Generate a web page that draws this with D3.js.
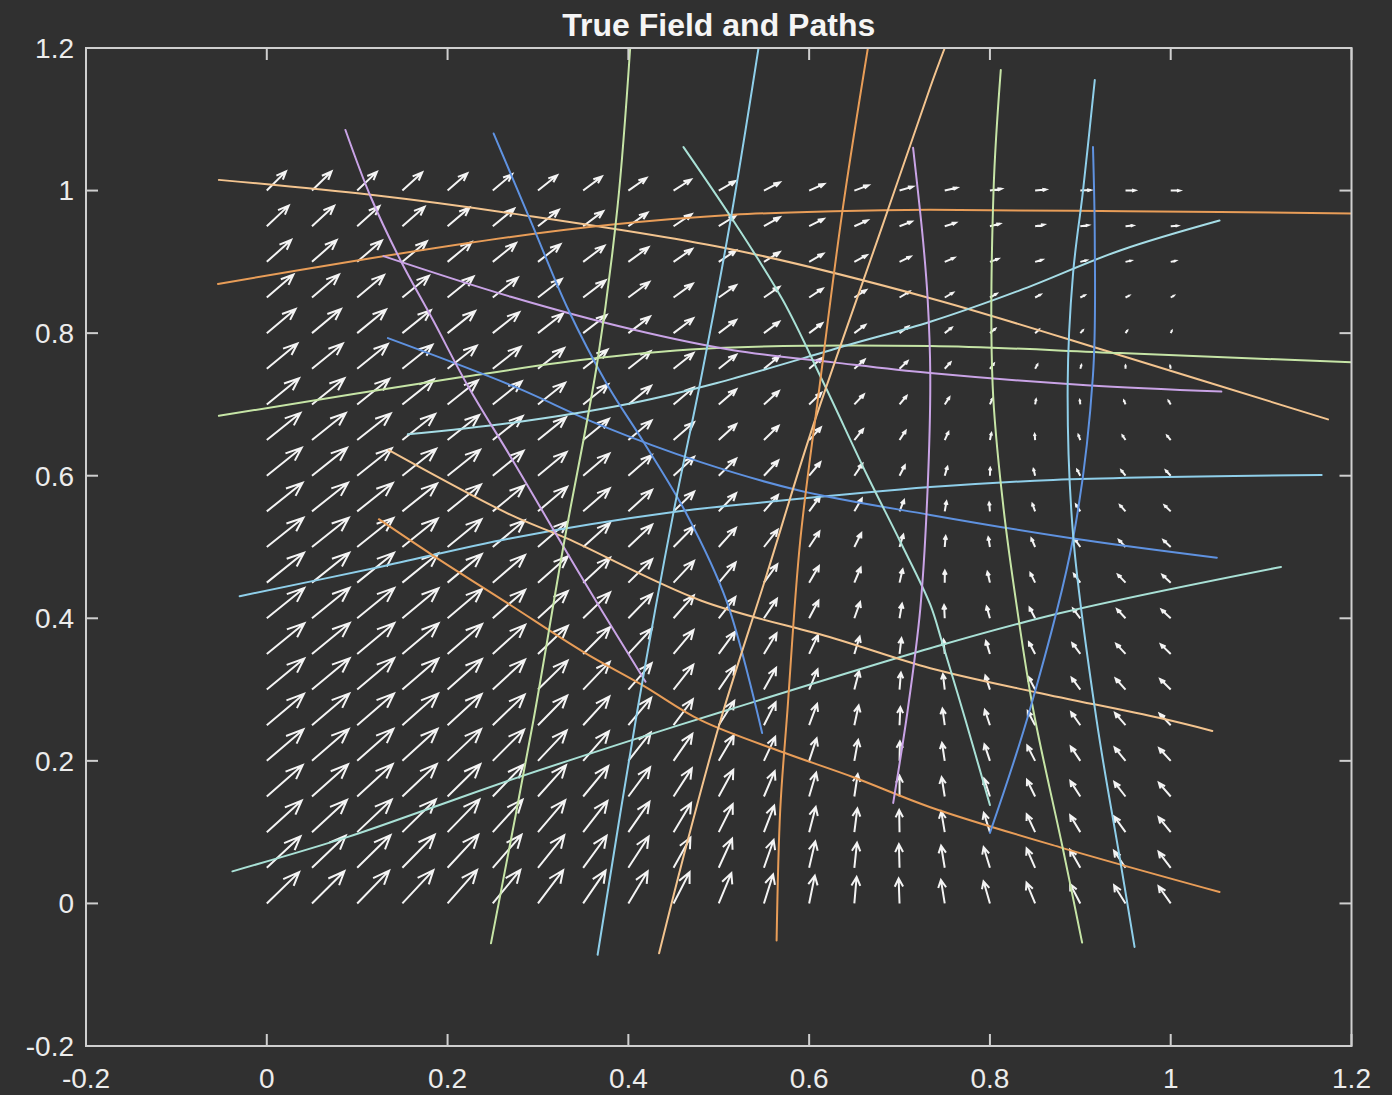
<!DOCTYPE html>
<html>
<head>
<meta charset="utf-8">
<title>True Field and Paths</title>
<script src="https://cdn.jsdelivr.net/npm/d3@7"></script>
<style>
  html, body { margin: 0; padding: 0; background: #303030; }
  svg { display: block; }
</style>
</head>
<body>
<svg id="chart" width="1392" height="1095"></svg>
<script>
// ---- data -------------------------------------------------------------
const titleText = "True Field and Paths";
const xTicks = [-0.2, 0, 0.2, 0.4, 0.6, 0.8, 1, 1.2];
const yTicks = [-0.2, 0, 0.2, 0.4, 0.6, 0.8, 1, 1.2];

// sample grid of the vector field
const gridX = [0, 0.05, 0.1, 0.15, 0.2, 0.25, 0.3, 0.35, 0.4, 0.45, 0.5, 0.55, 0.6, 0.65, 0.7, 0.75, 0.8, 0.85, 0.9, 0.95, 1];
const gridY = [0, 0.05, 0.1, 0.15, 0.2, 0.25, 0.3, 0.35, 0.4, 0.45, 0.5, 0.55, 0.6, 0.65, 0.7, 0.75, 0.8, 0.85, 0.9, 0.95, 1];

// field components, one row per gridY value, one column per gridX value
const fieldU = [
  [35.4,35.5,35.0,34.0,32.3,30.2,27.6,24.6,21.2,17.6,13.8,10.0,6.2,2.5,-1.0,-4.2,-7.0,-9.4,-11.2,-12.5,-13.3],
  [36.9,37.0,36.5,35.4,33.7,31.5,28.8,25.7,22.2,18.5,14.6,10.6,6.7,2.9,-0.7,-4.0,-6.9,-9.3,-11.2,-12.6,-13.3],
  [38.2,38.3,37.8,36.7,34.9,32.6,29.9,26.6,23.1,19.2,15.3,11.2,7.2,3.3,-0.4,-3.8,-6.7,-9.2,-11.1,-12.5,-13.2],
  [39.3,39.4,38.9,37.7,35.9,33.6,30.7,27.5,23.8,20.0,15.9,11.8,7.7,3.7,0.0,-3.4,-6.4,-8.9,-10.9,-12.3,-13.0],
  [40.1,40.2,39.7,38.5,36.7,34.3,31.5,28.2,24.5,20.6,16.5,12.3,8.2,4.2,0.4,-3.0,-6.0,-8.6,-10.5,-11.9,-12.7],
  [40.7,40.8,40.3,39.1,37.3,34.9,32.0,28.7,25.0,21.1,17.0,12.8,8.7,4.7,0.9,-2.5,-5.6,-8.1,-10.1,-11.5,-12.2],
  [41.0,41.2,40.6,39.4,37.6,35.3,32.4,29.1,25.5,21.6,17.5,13.3,9.2,5.2,1.5,-2.0,-5.0,-7.5,-9.5,-10.9,-11.6],
  [41.2,41.3,40.7,39.6,37.8,35.5,32.7,29.4,25.8,21.9,17.9,13.8,9.7,5.8,2.1,-1.3,-4.3,-6.8,-8.8,-10.2,-10.9],
  [41.0,41.1,40.6,39.5,37.8,35.5,32.7,29.5,26.0,22.2,18.2,14.2,10.2,6.3,2.7,-0.7,-3.6,-6.1,-8.0,-9.3,-10.1],
  [40.7,40.8,40.3,39.2,37.5,35.3,32.7,29.5,26.1,22.4,18.5,14.6,10.7,6.9,3.4,0.1,-2.7,-5.2,-7.0,-8.4,-9.1],
  [40.1,40.2,39.7,38.7,37.1,35.0,32.4,29.4,26.1,22.5,18.8,15.0,11.2,7.6,4.1,1.0,-1.8,-4.1,-6.0,-7.3,-8.0],
  [39.2,39.4,39.0,38.0,36.5,34.4,32.0,29.1,26.0,22.6,19.0,15.4,11.7,8.2,4.9,1.9,-0.8,-3.0,-4.8,-6.1,-6.8],
  [38.2,38.3,37.9,37.0,35.6,33.7,31.4,28.7,25.7,22.5,19.1,15.7,12.3,8.9,5.8,2.9,0.3,-1.8,-3.5,-4.7,-5.4],
  [36.8,37.0,36.7,35.9,34.6,32.8,30.7,28.2,25.4,22.4,19.2,16.0,12.8,9.6,6.7,4.0,1.6,-0.5,-2.1,-3.3,-4.0],
  [35.3,35.5,35.2,34.5,33.3,31.7,29.8,27.5,24.9,22.1,19.2,16.3,13.3,10.4,7.7,5.1,2.9,1.0,-0.6,-1.7,-2.4],
  [33.5,33.7,33.5,32.9,31.9,30.5,28.7,26.7,24.3,21.8,19.2,16.5,13.8,11.2,8.7,6.3,4.3,2.5,1.1,0.0,-0.6],
  [31.5,31.7,31.6,31.1,30.2,29.0,27.5,25.7,23.7,21.5,19.1,16.7,14.3,12.0,9.7,7.6,5.8,4.1,2.8,1.9,1.2],
  [29.2,29.5,29.4,29.1,28.4,27.4,26.1,24.6,22.9,21.0,19.0,16.9,14.8,12.8,10.8,9.0,7.3,5.9,4.7,3.8,3.2],
  [26.7,27.0,27.1,26.8,26.3,25.5,24.6,23.3,22.0,20.4,18.8,17.1,15.4,13.6,12.0,10.4,9.0,7.8,6.7,5.9,5.3],
  [24.0,24.3,24.4,24.3,24.0,23.5,22.8,22.0,20.9,19.8,18.5,17.2,15.9,14.5,13.2,11.9,10.8,9.7,8.8,8.1,7.6],
  [21.0,21.4,21.6,21.7,21.6,21.3,21.0,20.4,19.8,19.1,18.2,17.3,16.4,15.4,14.5,13.5,12.6,11.8,11.1,10.4,9.9]
];
const fieldV = [
  [43.5,44.7,45.6,46.2,46.6,46.6,46.2,45.6,44.7,43.5,42.1,40.4,38.6,36.7,34.7,32.7,30.7,28.7,26.9,25.3,23.8],
  [43.7,44.8,45.5,45.9,46.0,45.8,45.3,44.5,43.4,42.0,40.4,38.6,36.7,34.7,32.7,30.6,28.6,26.8,25.0,23.5,22.2],
  [43.8,44.7,45.3,45.6,45.5,45.1,44.4,43.3,42.0,40.5,38.8,36.9,34.9,32.8,30.7,28.6,26.7,24.8,23.2,21.8,20.6],
  [43.8,44.6,45.0,45.1,44.8,44.2,43.3,42.2,40.7,39.0,37.1,35.1,33.0,30.9,28.8,26.7,24.8,23.0,21.4,20.1,19.0],
  [43.7,44.3,44.6,44.5,44.1,43.4,42.3,41.0,39.4,37.5,35.6,33.4,31.3,29.1,26.9,24.8,22.9,21.2,19.7,18.4,17.5],
  [43.5,44.0,44.1,43.9,43.3,42.5,41.2,39.8,38.0,36.1,34.0,31.8,29.5,27.3,25.1,23.1,21.1,19.5,18.0,16.9,16.1],
  [43.2,43.5,43.6,43.2,42.5,41.5,40.2,38.5,36.7,34.6,32.4,30.2,27.9,25.6,23.4,21.3,19.4,17.8,16.4,15.4,14.6],
  [42.7,43.0,42.9,42.4,41.6,40.4,39.0,37.3,35.3,33.2,30.9,28.6,26.2,23.9,21.7,19.6,17.8,16.2,14.9,13.9,13.3],
  [42.1,42.3,42.1,41.6,40.6,39.4,37.8,36.0,33.9,31.7,29.4,27.0,24.6,22.3,20.1,18.0,16.2,14.7,13.4,12.5,12.0],
  [41.5,41.6,41.3,40.6,39.6,38.3,36.6,34.7,32.6,30.3,27.9,25.5,23.1,20.7,18.5,16.5,14.7,13.2,12.0,11.2,10.7],
  [40.7,40.7,40.4,39.6,38.5,37.1,35.4,33.4,31.2,28.9,26.5,24.0,21.6,19.2,17.0,15.0,13.3,11.8,10.7,9.9,9.5],
  [39.8,39.8,39.3,38.5,37.4,35.9,34.1,32.1,29.9,27.5,25.1,22.6,20.1,17.8,15.6,13.6,11.9,10.5,9.4,8.7,8.3],
  [38.8,38.7,38.2,37.4,36.1,34.6,32.8,30.8,28.5,26.1,23.7,21.2,18.7,16.4,14.2,12.3,10.6,9.2,8.2,7.5,7.2],
  [37.7,37.5,37.0,36.1,34.9,33.3,31.5,29.4,27.1,24.7,22.3,19.8,17.4,15.1,12.9,11.0,9.4,8.0,7.0,6.4,6.1],
  [36.4,36.3,35.7,34.8,33.5,32.0,30.1,28.0,25.8,23.4,20.9,18.5,16.1,13.8,11.7,9.8,8.2,6.9,5.9,5.3,5.1],
  [35.1,34.9,34.3,33.4,32.1,30.5,28.7,26.6,24.4,22.0,19.6,17.2,14.8,12.6,10.5,8.7,7.1,5.8,4.9,4.3,4.1],
  [33.6,33.4,32.8,31.9,30.6,29.1,27.3,25.2,23.0,20.7,18.3,15.9,13.6,11.4,9.4,7.6,6.0,4.8,3.9,3.4,3.2],
  [32.0,31.8,31.3,30.3,29.1,27.6,25.8,23.8,21.6,19.3,17.0,14.7,12.4,10.3,8.3,6.6,5.1,3.9,3.0,2.5,2.3],
  [30.4,30.2,29.6,28.7,27.5,26.0,24.3,22.3,20.2,18.0,15.8,13.5,11.3,9.2,7.3,5.6,4.2,3.0,2.2,1.7,1.5],
  [28.6,28.4,27.8,27.0,25.8,24.4,22.7,20.9,18.8,16.7,14.5,12.4,10.2,8.2,6.4,4.7,3.3,2.2,1.4,0.9,0.7],
  [26.7,26.5,26.0,25.2,24.1,22.8,21.2,19.4,17.5,15.4,13.3,11.3,9.2,7.3,5.5,3.9,2.6,1.5,0.7,0.2,0.0]
];

// trajectories, each a list of [x, y] samples
const paths = [
  [[-0.053,1.015],[0.115,0.994],[0.27,0.968],[0.516,0.917],[0.734,0.849],[0.944,0.769],[1.174,0.679]],
  [[-0.054,0.869],[0.10,0.902],[0.27,0.935],[0.38,0.952],[0.516,0.966],[0.627,0.971],[0.734,0.973],[0.95,0.971],[1.2,0.968]],
  [[-0.053,0.684],[0.214,0.738],[0.366,0.765],[0.498,0.779],[0.734,0.782],[0.944,0.772],[1.2,0.759]],
  [[-0.03,0.431],[0.125,0.472],[0.269,0.512],[0.45,0.549],[0.553,0.563],[0.734,0.584],[0.87,0.594],[1.167,0.601]],
  [[-0.038,0.045],[0.089,0.093],[0.184,0.135],[0.269,0.173],[0.416,0.234],[0.509,0.271],[0.734,0.358],[0.877,0.407],[1.122,0.472]],
  [[0.124,0.539],[0.184,0.488],[0.269,0.419],[0.35,0.353],[0.416,0.306],[0.48,0.257],[0.571,0.212],[0.649,0.177],[0.734,0.135],[0.877,0.079],[1.054,0.016]],
  [[0.135,0.636],[0.27,0.545],[0.332,0.512],[0.48,0.425],[0.627,0.372],[0.734,0.33],[0.852,0.296],[0.988,0.26],[1.046,0.242]],
  [[0.134,0.793],[0.27,0.727],[0.369,0.671],[0.48,0.619],[0.59,0.579],[0.734,0.545],[0.892,0.512],[1.051,0.485]],
  [[0.156,0.658],[0.27,0.674],[0.405,0.702],[0.498,0.73],[0.645,0.784],[0.734,0.816],[0.833,0.86],[0.944,0.916],[1.054,0.958]],
  [[0.129,0.908],[0.27,0.851],[0.405,0.805],[0.516,0.776],[0.627,0.759],[0.734,0.744],[0.907,0.727],[1.056,0.718]],
  [[0.087,1.085],[0.115,0.991],[0.148,0.902],[0.184,0.818],[0.222,0.727],[0.27,0.626],[0.314,0.531],[0.369,0.414],[0.419,0.311]],
  [[0.251,1.08],[0.295,0.948],[0.332,0.837],[0.377,0.727],[0.417,0.647],[0.465,0.545],[0.509,0.423],[0.548,0.239]],
  [[0.461,1.061],[0.516,0.958],[0.571,0.846],[0.616,0.73],[0.664,0.601],[0.701,0.507],[0.734,0.419],[0.747,0.367],[0.773,0.257],[0.8,0.138]],
  [[0.248,-0.056],[0.295,0.257],[0.328,0.5],[0.366,0.762],[0.388,0.977],[0.402,1.2]],
  [[0.366,-0.072],[0.41,0.271],[0.45,0.549],[0.48,0.734],[0.513,0.958],[0.544,1.2]],
  [[0.434,-0.07],[0.465,0.085],[0.502,0.257],[0.553,0.461],[0.601,0.657],[0.682,0.954],[0.734,1.145],[0.75,1.2]],
  [[0.564,-0.052],[0.568,0.131],[0.576,0.271],[0.59,0.507],[0.612,0.73],[0.637,0.973],[0.665,1.2]],
  [[0.693,0.141],[0.709,0.271],[0.723,0.414],[0.731,0.58],[0.734,0.741],[0.731,0.85],[0.726,0.93],[0.715,1.06]],
  [[0.812,1.169],[0.804,1.0],[0.803,0.727],[0.815,0.555],[0.83,0.414],[0.848,0.271],[0.881,0.075],[0.902,-0.055]],
  [[0.8,0.099],[0.844,0.271],[0.892,0.512],[0.914,0.741],[0.916,0.93],[0.914,1.061]],
  [[0.916,1.155],[0.903,1.0],[0.892,0.884],[0.886,0.727],[0.892,0.517],[0.918,0.257],[0.944,0.061],[0.96,-0.061]]
];

// ---- styling ----------------------------------------------------------
const palette = {
  peach: "#f3c48f", orange: "#e89d58", green: "#c6e5a6", sky: "#8fcfea",
  mint: "#a9e1d6", cyan: "#a6dde6", blue: "#5f92e0", lilac: "#c9a3e6"
};
const pathColors = [
  palette.peach, palette.orange, palette.green, palette.sky, palette.mint,
  palette.orange, palette.peach, palette.blue, palette.cyan, palette.lilac,
  palette.lilac, palette.blue, palette.mint, palette.green, palette.sky,
  palette.peach, palette.orange, palette.lilac, palette.green, palette.blue,
  palette.sky
];

const BG = "#303030";
const AXIS = "#cfcfcf";
const TEXT = "#ececec";
const FONT = "'Liberation Sans', Arial, Helvetica, sans-serif";

// ---- layout -----------------------------------------------------------
const plot = { left: 86, right: 1351.5, top: 48, bottom: 1046 };
const x = d3.scaleLinear().domain([-0.2, 1.2]).range([plot.left, plot.right]);
const y = d3.scaleLinear().domain([-0.2, 1.2]).range([plot.bottom, plot.top]);

const svg = d3.select("#chart");
svg.append("rect").attr("width", 1392).attr("height", 1095).attr("fill", BG);

svg.append("defs").append("clipPath").attr("id", "plot-clip")
  .append("rect")
  .attr("x", plot.left).attr("y", plot.top)
  .attr("width", plot.right - plot.left).attr("height", plot.bottom - plot.top);

// ---- quiver (tail at grid node, auto-scaled like MATLAB's quiver) -----
const arrows = [];
gridY.forEach((gy, j) => gridX.forEach((gx, i) => {
  arrows.push({ x: gx, y: gy, u: fieldU[j][i], v: fieldV[j][i] });
}));
const n = Math.sqrt(arrows.length);
const delx = (d3.max(gridX) - d3.min(gridX)) / n;
const dely = (d3.max(gridY) - d3.min(gridY)) / n;
const del = delx * delx + dely * dely;
const maxLen = d3.max(arrows, a => Math.sqrt((a.u * a.u + a.v * a.v) / del));
const autoscale = 0.9 / maxLen;
const alpha = 0.33, beta = 0.4;

function arrowPath(a) {
  const u = a.u * autoscale, v = a.v * autoscale;
  const tx = a.x + u, ty = a.y + v;
  const h1x = tx - alpha * (u + beta * v), h1y = ty - alpha * (v - beta * u);
  const h2x = tx - alpha * (u - beta * v), h2y = ty - alpha * (v + beta * u);
  return `M${x(a.x)},${y(a.y)}L${x(tx)},${y(ty)}` +
         `M${x(h1x)},${y(h1y)}L${x(tx)},${y(ty)}L${x(h2x)},${y(h2y)}`;
}

const plotG = svg.append("g").attr("clip-path", "url(#plot-clip)");

plotG.append("g").attr("class", "quiver")
  .selectAll("path").data(arrows).join("path")
  .attr("d", arrowPath)
  .attr("fill", "none")
  .attr("stroke", "#f4f4f4")
  .attr("stroke-width", 2)
  .attr("stroke-linejoin", "miter");

// ---- trajectories -----------------------------------------------------
const line = d3.line()
  .x(d => x(d[0])).y(d => y(d[1]))
  .curve(d3.curveCatmullRom.alpha(0.5));

plotG.append("g").attr("class", "paths")
  .selectAll("path").data(paths).join("path")
  .attr("d", line)
  .attr("fill", "none")
  .attr("stroke", (d, k) => pathColors[k])
  .attr("stroke-width", 2)
  .attr("stroke-linecap", "round");

// ---- axes box with inward ticks on all sides ---------------------------
const tickLen = 12;
const fmt = t => String(+t.toFixed(1));

const axG = svg.append("g").attr("class", "axes")
  .attr("stroke", AXIS).attr("stroke-width", 2).attr("fill", "none");

axG.append("rect")
  .attr("x", plot.left).attr("y", plot.top)
  .attr("width", plot.right - plot.left).attr("height", plot.bottom - plot.top);

xTicks.forEach(t => {
  const px = x(t);
  axG.append("line").attr("x1", px).attr("x2", px)
    .attr("y1", plot.bottom).attr("y2", plot.bottom - tickLen);
  axG.append("line").attr("x1", px).attr("x2", px)
    .attr("y1", plot.top).attr("y2", plot.top + tickLen);
});
yTicks.forEach(t => {
  const py = y(t);
  axG.append("line").attr("y1", py).attr("y2", py)
    .attr("x1", plot.left).attr("x2", plot.left + tickLen);
  axG.append("line").attr("y1", py).attr("y2", py)
    .attr("x1", plot.right).attr("x2", plot.right - tickLen);
});

// tick labels
svg.append("g").attr("class", "x-labels")
  .selectAll("text").data(xTicks).join("text")
  .attr("x", d => x(d)).attr("y", 1088)
  .attr("text-anchor", "middle")
  .attr("font-family", FONT).attr("font-size", 28)
  .attr("fill", TEXT)
  .text(fmt);

svg.append("g").attr("class", "y-labels")
  .selectAll("text").data(yTicks).join("text")
  .attr("x", plot.left - 12).attr("y", d => y(d))
  .attr("dy", "0.35em")
  .attr("text-anchor", "end")
  .attr("font-family", FONT).attr("font-size", 28)
  .attr("fill", TEXT)
  .text(fmt);

// title
svg.append("text")
  .attr("x", (plot.left + plot.right) / 2).attr("y", 36)
  .attr("text-anchor", "middle")
  .attr("font-family", FONT).attr("font-size", 32).attr("font-weight", "bold")
  .attr("fill", "#f5f5f5")
  .text(titleText);
</script>
</body>
</html>
